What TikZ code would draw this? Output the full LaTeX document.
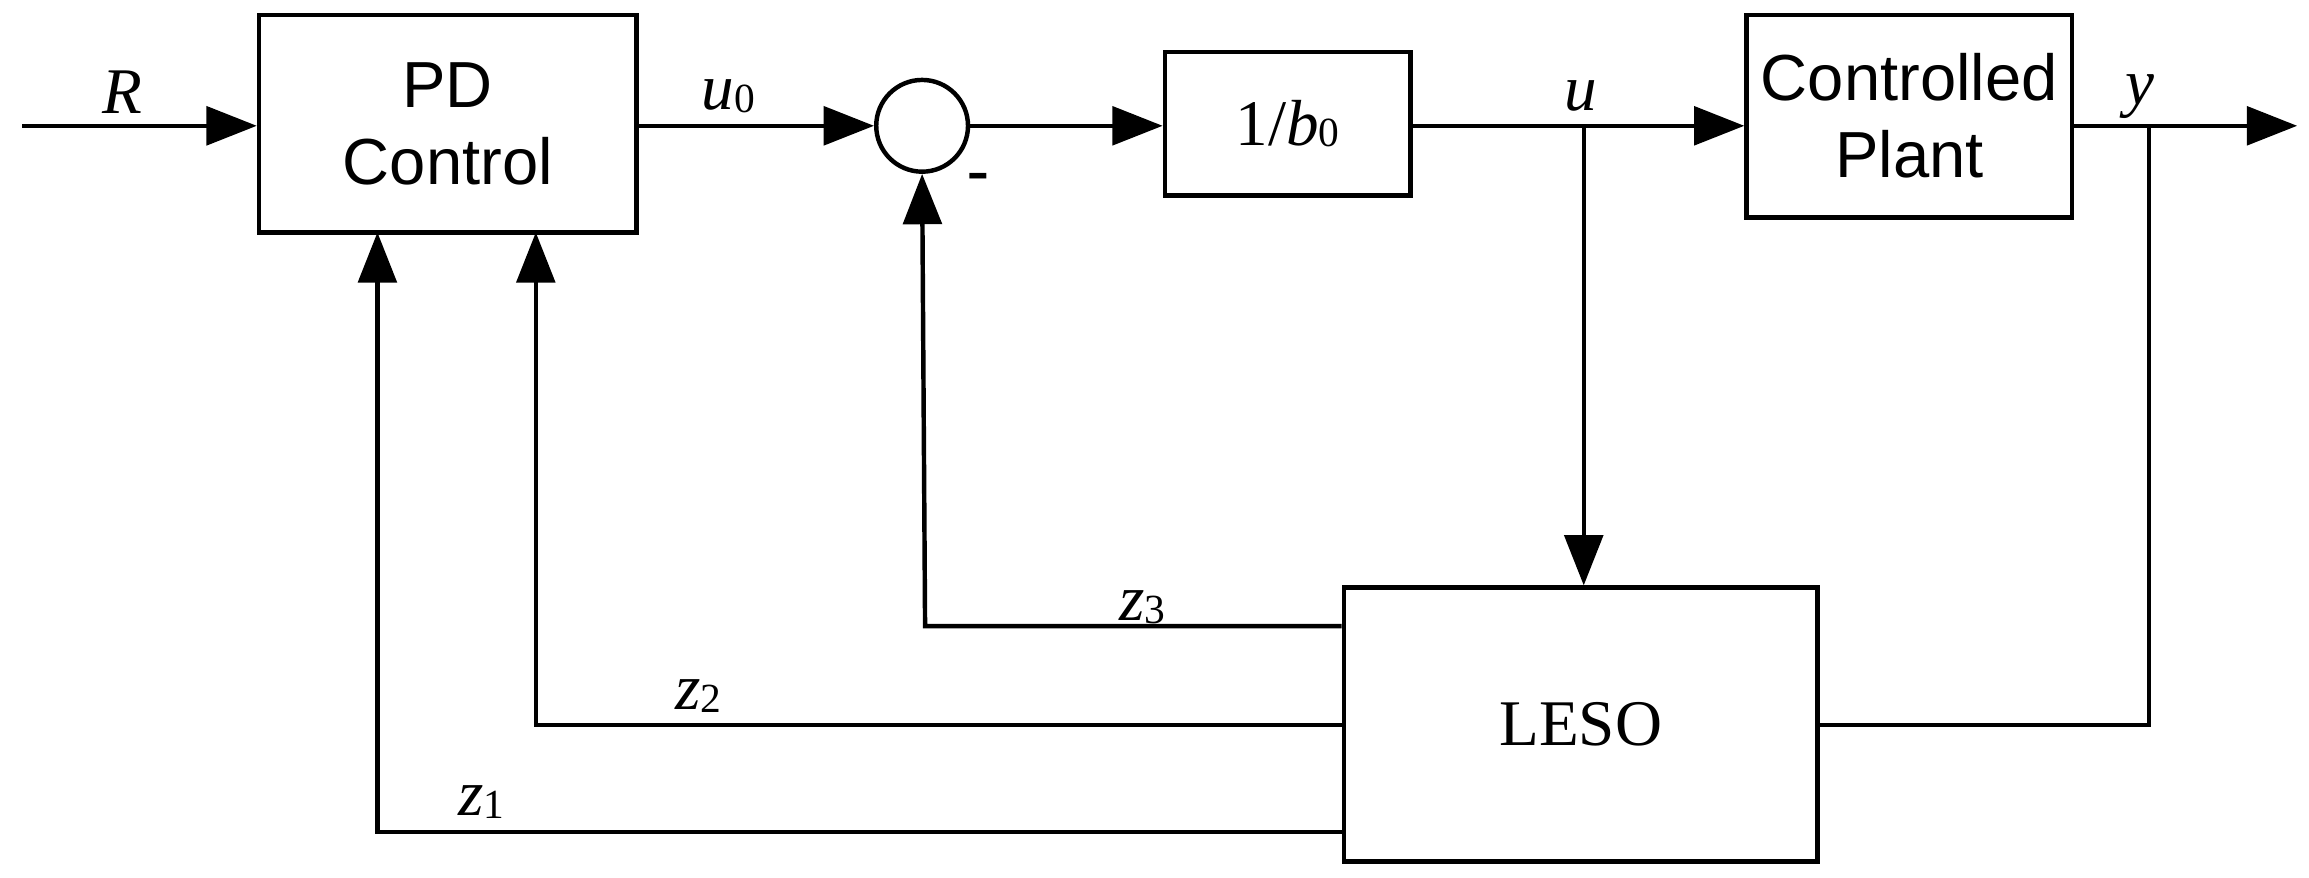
\documentclass[tikz,border=0pt]{standalone}
\usepackage{fontspec}
\setmainfont{Liberation Serif}
\newfontfamily\sans{Liberation Sans}
\usetikzlibrary{arrows.meta}
\begin{document}
\begin{tikzpicture}[x=0.5pt,y=-0.5pt,
  line width=1.5pt,
  ar/.style={-{Triangle[length=17pt,width=13pt]}},
  box/.style={draw,line width=1.5pt,inner sep=0pt},
  lab/.style={font=\fontsize{22}{24}\selectfont\itshape},
  sub/.style={font=\fontsize{14}{16}\selectfont}]
\useasboundingbox (0,0) rectangle (1560,593);
\node[box,minimum width=255pt*0.5,minimum height=147pt*0.5] (pd) at (302.5,83.5) {};
\node[font=\sans\fontsize{22}{26}\selectfont,align=center] at (pd) {PD\\Control};
\node[draw,circle,minimum size=31pt,inner sep=0pt,line width=1.5pt] (s) at (623,85) {};
\node[box,minimum width=83pt,minimum height=48.5pt] (b) at (870,83.5) {\fontsize{22}{24}\selectfont 1/\textit{b}\raisebox{-0.5pt}{\fontsize{14}{16}\selectfont 0}};
\node[box,minimum width=110pt,minimum height=68.5pt] (p) at (1290,78.5) {};
\node[font=\sans\fontsize{22}{26}\selectfont,align=center] at (p) {Controlled\\Plant};
\node[box,minimum width=160pt,minimum height=92.5pt] (l) at (1068,489.5) {\fontsize{22}{24}\selectfont LESO};
\coordinate (R0) at (15,85);
\coordinate (yend) at (1552,85);
\coordinate (ub) at (1070,85);
\coordinate (yb) at (1452,85);
\draw[ar] (R0) -- (pd.west |- R0);
\draw[ar] (pd.east |- s) -- (s.west);
\draw[ar] (s.east) -- (b.west |- s);
\draw[ar] (b.east |- s) -- (p.west |- s);
\draw[ar] (p.east |- s) -- (yend);
\draw[ar] (ub) -- (ub |- l.north);
\draw (yb) -- (1452,490) -- (l.east |- 0,490);
\draw[ar] (l.west |- 0,423) -- (625,423) -- (s.south);
\draw[ar] (l.west |- 0,490) -- (362,490) -- (362,157);
\draw[ar] (l.west |- 0,562) -- (255,562) -- (255,157);
\node[lab] at (83,62) {R};
\node[lab] at (492,65) {u\raisebox{-1pt}{\upshape\fontsize{14}{16}\selectfont 0}};
\node[lab] at (1068,65) {u};
\node[lab] at (1446,65) {y};
\node[font=\fontsize{22}{24}\selectfont\bfseries] at (661,123) {-};
\node[lab] at (772,410) {z\raisebox{-1pt}{\upshape\fontsize{14}{16}\selectfont 3}};
\node[lab] at (472,470) {z\raisebox{-1pt}{\upshape\fontsize{14}{16}\selectfont 2}};
\node[lab] at (325,542) {z\raisebox{-1pt}{\upshape\fontsize{14}{16}\selectfont 1}};
\end{tikzpicture}
\end{document}
